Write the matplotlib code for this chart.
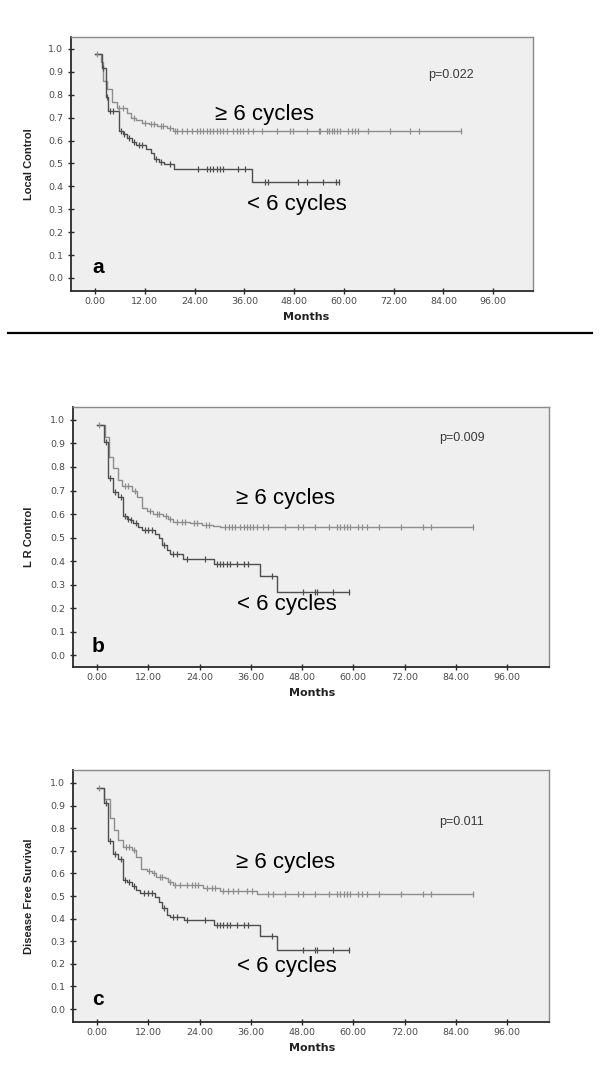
import numpy as np
import matplotlib
matplotlib.use('Agg')
import matplotlib.pyplot as plt
from matplotlib.lines import Line2D
from matplotlib import font_manager
from matplotlib.font_manager import FontProperties

# ---------------- data ----------------
x_ticks = [0, 12, 24, 36, 48, 60, 72, 84, 96]
y_ticks = [0.0, 0.1, 0.2, 0.3, 0.4, 0.5, 0.6, 0.7, 0.8, 0.9, 1.0]

panel_letters = ["a", "b", "c"]
y_titles = ["Local Control", "L R Control", "Disease Free Survival"]
p_values = ["p=0.022", "p=0.009", "p=0.011"]
group_labels = ["\u2265 6 cycles", "< 6 cycles"]

# Panel a : >= 6 cycles
a_hi_t = [0, 1.45, 2.0, 3.0, 4.0, 5.2, 7.8, 8.6, 10.0, 11.3, 12.9, 14.9, 17.3, 18.7]
a_hi_s = [0.98, 0.945, 0.86, 0.824, 0.77, 0.741, 0.722, 0.697, 0.688, 0.678, 0.672, 0.665, 0.654, 0.643]
a_hi_end = 88.2
a_hi_cens = [0.5, 5.8, 6.7, 9.3, 12.0, 13.5, 14.2, 15.8, 16.5, 18.0, 19.3, 19.8, 21.0, 22.2, 23.4,
             24.6, 25.3, 26.1, 27.0, 27.7, 28.5, 29.4, 30.2, 30.9, 31.8, 33.3, 34.2, 35.0, 35.7,
             36.9, 38.1, 40.3, 43.9, 47.0, 47.7, 51.1, 53.9, 54.3, 55.9, 56.5, 57.1, 57.6, 58.3,
             59.1, 61.1, 61.9, 62.7, 63.5, 65.9, 71.2, 76.0, 78.0, 88.2]
# Panel a : < 6 cycles
a_lo_t = [0, 1.6, 2.6, 3.1, 5.8, 6.7, 7.6, 8.8, 9.8, 12.4, 13.4, 14.2, 15.4, 16.6, 19.1, 37.9]
a_lo_s = [0.98, 0.915, 0.79, 0.73, 0.642, 0.628, 0.612, 0.595, 0.58, 0.565, 0.545, 0.52, 0.508,
          0.497, 0.476, 0.418]
a_lo_end = 58.8
a_lo_cens = [2.0, 2.8, 3.5, 4.3, 6.2, 7.1, 8.2, 9.3, 10.5, 11.3, 14.8, 15.8, 18.0, 24.8, 27.0, 27.7,
             28.4, 29.4, 30.1, 30.8, 34.5, 36.1, 41.0, 41.8, 49.0, 51.0, 55.0, 58.0, 58.8]

# Panel b : >= 6 cycles
b_hi_t = [0, 1.9, 2.9, 3.8, 4.8, 5.8, 8.1, 9.4, 10.5, 11.8, 13.2, 15.5, 16.7, 17.9, 21.8, 24.5, 27.2, 28.8]
b_hi_s = [0.98, 0.929, 0.841, 0.794, 0.745, 0.719, 0.70, 0.674, 0.624, 0.612, 0.60, 0.59, 0.578,
          0.567, 0.56, 0.555, 0.55, 0.545]
b_hi_end = 88.1
b_hi_cens = [0.5, 6.5, 7.3, 8.8, 12.3, 14.0, 14.6, 16.1, 17.2, 18.8, 19.8, 20.5, 22.8, 23.5, 25.5,
             26.3, 30.0, 30.8, 31.5, 32.3, 33.5, 34.3, 35.1, 35.8, 36.6, 37.4, 38.9, 40.1, 44.0,
             47.1, 48.3, 51.0, 54.2, 56.1, 56.9, 57.7, 58.5, 59.2, 61.2, 62.0, 63.2, 66.1, 71.1,
             76.2, 78.2, 88.1]
# Panel b : < 6 cycles
b_lo_t = [0, 1.7, 2.6, 3.7, 5.0, 6.2, 7.0, 7.7, 8.5, 9.7, 10.5, 13.6, 14.4, 15.1, 16.3, 17.1, 20.1,
          27.4, 38.2, 42.2]
b_lo_s = [0.98, 0.908, 0.752, 0.694, 0.674, 0.591, 0.58, 0.574, 0.562, 0.546, 0.532, 0.515, 0.496,
          0.468, 0.447, 0.43, 0.407, 0.387, 0.336, 0.27]
b_lo_end = 58.9
b_lo_cens = [2.0, 3.0, 4.2, 5.5, 6.6, 7.3, 8.0, 9.2, 11.2, 12.0, 12.8, 15.6, 17.8, 18.8, 21.1, 25.3,
             28.0, 28.8, 29.6, 30.4, 31.2, 32.8, 34.3, 35.4, 41.0, 48.3, 51.0, 51.4, 55.2, 58.9]

# Panel c : >= 6 cycles
c_hi_t = [0, 1.7, 3.0, 3.9, 4.9, 6.2, 8.1, 9.2, 10.4, 11.6, 12.8, 13.9, 15.9, 16.6, 17.9, 24.9, 28.8, 37.4]
c_hi_s = [0.98, 0.931, 0.844, 0.792, 0.748, 0.718, 0.705, 0.674, 0.618, 0.61, 0.60, 0.585, 0.578,
          0.563, 0.549, 0.534, 0.524, 0.509]
c_hi_end = 88.1
c_hi_cens = [0.5, 6.8, 7.5, 8.7, 12.2, 13.3, 14.8, 15.3, 17.1, 18.3, 19.4, 21.0, 22.2, 22.9, 23.7,
             25.7, 26.9, 27.6, 29.6, 30.7, 31.9, 33.1, 35.1, 36.2, 40.1, 41.3, 44.0, 47.1, 48.3,
             51.0, 54.2, 56.1, 56.9, 57.7, 58.5, 59.2, 61.2, 62.0, 63.2, 66.1, 71.1, 76.2, 78.2, 88.1]
# Panel c : < 6 cycles
c_lo_t = [0, 1.7, 2.6, 3.7, 5.0, 6.2, 7.0, 8.1, 9.1, 10.0, 13.6, 14.4, 15.1, 16.3, 17.1, 20.3,
          27.4, 38.2, 42.2]
c_lo_s = [0.98, 0.91, 0.745, 0.686, 0.662, 0.571, 0.56, 0.545, 0.527, 0.512, 0.494, 0.475, 0.445,
          0.416, 0.405, 0.394, 0.372, 0.323, 0.26]
c_lo_end = 58.9
c_lo_cens = [2.0, 3.0, 4.2, 5.5, 6.6, 7.4, 8.6, 11.0, 12.0, 12.8, 15.6, 17.8, 18.8, 21.1, 25.3,
             28.0, 28.8, 29.6, 30.4, 31.2, 32.8, 34.3, 35.4, 41.0, 48.3, 51.0, 51.4, 55.2, 58.9]

hi_curves = [(a_hi_t, a_hi_s, a_hi_end, a_hi_cens),
             (b_hi_t, b_hi_s, b_hi_end, b_hi_cens),
             (c_hi_t, c_hi_s, c_hi_end, c_hi_cens)]
lo_curves = [(a_lo_t, a_lo_s, a_lo_end, a_lo_cens),
             (b_lo_t, b_lo_s, b_lo_end, b_lo_cens),
             (c_lo_t, c_lo_s, c_lo_end, c_lo_cens)]

# ---------------- fonts ----------------
names = {f.name for f in font_manager.fontManager.ttflist}
if 'Liberation Sans Narrow' in names:
    ylab_fp = FontProperties(family='Liberation Sans Narrow', weight='bold', size=9)
else:
    ylab_fp = FontProperties(family=['Liberation Sans', 'DejaVu Sans'], weight='bold', size=8)

arial = ['Liberation Sans', 'DejaVu Sans']

# ---------------- layout ----------------
W, H = 600, 1072
fig = plt.figure(figsize=(W / 100, H / 100), dpi=100)
fig.patch.set_facecolor('white')

frames = [(71, 37, 533, 291), (73, 407, 549, 667), (73, 770, 549, 1022)]
xlims = [(-5.79, 105.6), (-5.62, 105.8), (-5.62, 105.8)]
ylims = [(-0.0568, 1.0524), (-0.051, 1.0553), (-0.0575, 1.0575)]
p_pos = [(80.3, 0.886), (80.1, 0.923), (80.1, 0.827)]
hi_pos = [(28.9, 0.712), (32.5, 0.668), (32.5, 0.650)]
lo_pos = [(36.7, 0.319), (32.8, 0.213), (32.8, 0.186)]
letter_pos = [(-0.7, 0.048), (-1.2, 0.038), (-1.2, 0.044)]
months_x = [306, 312, 312]

col_hi = '#8e8e8e'
col_lo = '#4f4f4f'


def step_value(times, surv, t):
    idx = np.searchsorted(np.asarray(times), np.asarray(t), side='right') - 1
    return np.asarray(surv)[idx]


for i in range(3):
    x0, y0, x1, y1 = frames[i]
    ax = fig.add_axes([x0 / W, 1 - y1 / H, (x1 - x0) / W, (y1 - y0) / H])
    ax.set_facecolor('#efefef')
    ax.set_xlim(*xlims[i])
    ax.set_ylim(*ylims[i])
    for side in ['left', 'bottom']:
        ax.spines[side].set_color('#2a2a2a')
        ax.spines[side].set_linewidth(1.3)
    for side in ['top', 'right']:
        ax.spines[side].set_color('#8a8a8a')
        ax.spines[side].set_linewidth(1.0)
    ax.set_xticks(x_ticks)
    ax.set_xticklabels([f'{v:.2f}' for v in x_ticks])
    ax.set_yticks(y_ticks)
    ax.set_yticklabels([f'{v:.1f}' for v in y_ticks])
    ax.tick_params(direction='inout', length=5, width=1.0, color='#2a2a2a',
                   labelsize=6.8, labelcolor='#4a4a4a', pad=2)
    ax.tick_params(axis='y', pad=3)

    for (tt, ss, end, cens), col in [(hi_curves[i], col_hi), (lo_curves[i], col_lo)]:
        xs = np.append(tt, end)
        ys = np.append(ss, ss[-1])
        ax.step(xs, ys, where='post', color=col, lw=1.0, zorder=3)
        ax.plot(cens, step_value(tt, ss, cens), linestyle='none', marker='|',
                markersize=4.2, mew=0.9, color=col, zorder=4)

    ax.text(*p_pos[i], p_values[i], fontsize=9, color='#3a3a3a', family=arial,
            ha='left', va='center')
    ax.text(*hi_pos[i], group_labels[0], fontsize=16, color='black', family=arial,
            ha='left', va='center')
    ax.text(*lo_pos[i], group_labels[1], fontsize=16, color='black', family=arial,
            ha='left', va='center')
    ax.text(*letter_pos[i], panel_letters[i], fontsize=15, fontweight='bold', color='black',
            family=arial, ha='left', va='center')

    fig.text(29 / W, 1 - ((y0 + y1) / 2) / H, y_titles[i], rotation=90,
             fontproperties=ylab_fp, color='#222222', ha='center', va='center')
    fig.text(months_x[i] / W, 1 - (y1 + 26) / H, 'Months', fontsize=8, fontweight='bold',
             family='DejaVu Sans', color='#222222', ha='center', va='center')

# separator line under the first panel
fig.add_artist(Line2D([8 / W, 592 / W], [1 - 333 / H, 1 - 333 / H], color='black', lw=1.6))

fig.savefig('out.png', dpi=100, facecolor='white')
